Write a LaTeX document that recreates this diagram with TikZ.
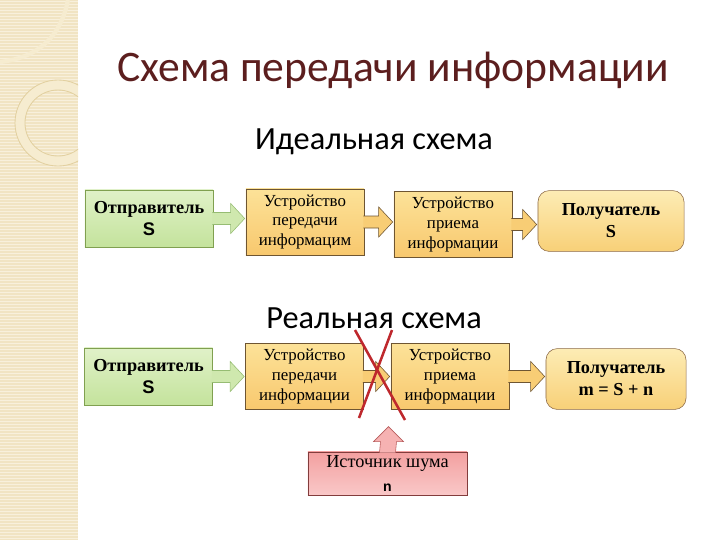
\documentclass[tikz,border=0pt]{standalone}
\usepackage{fontspec}
\setmainfont{Liberation Serif}
\newfontfamily\calib{Carlito}
\newfontfamily\arial{Liberation Sans}
\usepackage{tikz}
\usetikzlibrary{calc}

\definecolor{titlered}{RGB}{92,30,30}
\definecolor{stripe}{RGB}{241,228,195}
\definecolor{stripeln}{RGB}{248,240,220}
\definecolor{ringc}{RGB}{246,236,208}
\definecolor{ringbd}{RGB}{226,208,160}
\definecolor{greentop}{RGB}{224,241,200}
\definecolor{greenbot}{RGB}{196,227,156}
\definecolor{greenbd}{RGB}{128,160,80}
\definecolor{greenarr}{RGB}{207,232,174}
\definecolor{greenarrbd}{RGB}{150,188,115}
\definecolor{orangetop}{RGB}{252,226,152}
\definecolor{orangebot}{RGB}{248,200,110}
\definecolor{orangebd}{RGB}{110,85,50}
\definecolor{orangearr}{RGB}{248,205,117}
\definecolor{yellowtop}{RGB}{253,236,180}
\definecolor{yellowbot}{RGB}{248,208,120}
\definecolor{yellowbd}{RGB}{140,105,70}
\definecolor{pinktop}{RGB}{243,160,160}
\definecolor{pinkbot}{RGB}{249,200,200}
\definecolor{pinkbd}{RGB}{130,60,60}
\definecolor{pinkarr}{RGB}{246,178,178}
\definecolor{pinkarrbd}{RGB}{184,92,92}
\definecolor{crossred}{RGB}{190,40,45}

\begin{document}
\begin{tikzpicture}[x=0.025cm, y=-0.025cm,
    sendbox/.style={draw=greenbd, top color=greentop, bottom color=greenbot,
      minimum width=3.2cm, minimum height=1.43cm, inner sep=0pt, align=center,
      font=\fontsize{13}{15.6}\selectfont},
    devbox/.style={draw=orangebd, top color=orangetop, bottom color=orangebot,
      minimum width=2.95cm, minimum height=1.65cm, inner sep=0pt, align=center,
      font=\fontsize{12}{14}\selectfont},
    recvbox/.style={draw=yellowbd, top color=yellowtop, bottom color=yellowbot,
      rounded corners=8pt, minimum height=1.52cm, inner sep=0pt, align=center,
      font=\fontsize{13}{15.6}\selectfont},
    noisebox/.style={draw=pinkbd, top color=pinktop, bottom color=pinkbot,
      minimum width=3.98cm, minimum height=1.08cm, inner sep=0pt, align=center,
      font=\fontsize{13}{17.5}\selectfont},
    heading/.style={font=\calib\fontsize{23}{27}\selectfont}]
	\useasboundingbox (0,0) rectangle (720,540);

	% left stripe
	\fill[stripe] (0,0) rectangle (78,540);
	\foreach \y in {1,4,...,540}
		\draw[stripeln, line width=0.6pt] (0,\y) -- (78,\y);
	\begin{scope}
		\clip (0,0) rectangle (78,540);
		\draw[ringc, line width=3pt] (68,0) .. controls (60,40) and (35,58) .. (0,62);
		\draw[ringc, line width=7pt] (58,123) circle (38);
		\draw[ringbd, line width=0.6pt] (58,123) circle (43) (58,123) circle (33);
	\end{scope}

	% titles
	\node[titlered, font=\calib\fontsize{31}{36}\selectfont] (title) at (393,70) {Схема передачи информации};
	\node[heading] (ideal) at (374,142) {Идеальная схема};
	\node[heading] (real) at (374,318) {Реальная схема};

	% ideal row
	\node[sendbox] (snd1) at (149,218.5) {\bfseries Отправитель\\{\arial\bfseries S}};
	\node[devbox] (tx1) at (305,222) {Устройство\\передачи\\информацим};
	\node[devbox] (rx1) at (453,224.5) {Устройство\\приема\\информации};
	\node[recvbox, minimum width=3.65cm] (dst1) at (611,221) {\bfseries Получатель\\\bfseries S};

	% real row
	\node[sendbox] (snd2) at (148.5,376.5) {\bfseries Отправитель\\{\arial\bfseries S}};
	\node[devbox] (tx2) at (304.5,376.5) {Устройство\\передачи\\информации};
	\node[devbox] (rx2) at (450,376.5) {Устройство\\приема\\информации};
	\node[recvbox, minimum width=3.5cm] (dst2) at (616,379) {\bfseries Получатель\\\bfseries m = S + n};
	\node[noisebox] (noise) at (387.5,473.5) {Источник шума\\{\arial\bfseries\fontsize{10}{12}\selectfont n}};

	% block arrows between the boxes
	\foreach \a/\b/\c/\d in {snd1/tx1/greenarr/greenarrbd, tx1/rx1/orangearr/orangebd,
	    rx1/dst1/orangearr/orangebd, snd2/tx2/greenarr/greenarrbd,
	    tx2/rx2/orangearr/orangebd, rx2/dst2/orangearr/orangebd}
		\draw[draw=\d, fill=\c, line join=miter]
		  ($(\a.east)+(-1,6)$) -- ($(\b.west |- \a.east)+(-15,6)$)
		  -- ($(\b.west |- \a.east)+(-15,15)$) -- ($(\b.west |- \a.east)+(-1,0)$)
		  -- ($(\b.west |- \a.east)+(-15,-15)$) -- ($(\b.west |- \a.east)+(-15,-6)$)
		  -- ($(\a.east)+(-1,-6)$);

	% noise arrow
	\coordinate (hit) at ($(noise.north)+(1,-25)$);
	\draw[draw=pinkarrbd, fill=pinkarr, line join=miter]
	  ($(noise.north)+(-8,1)$) -- ($(hit)+(-8,15)$) -- ($(hit)+(-15,15)$)
	  -- (hit) -- ($(hit)+(15,15)$) -- ($(hit)+(8,15)$) -- ($(noise.north)+(8,1)$);

	% broken channel
	\draw[crossred, line width=1.8pt] (355,330) -- (405,420);
	\draw[crossred, line width=1.8pt] (392,330) -- (359,418);
\end{tikzpicture}
\end{document}
